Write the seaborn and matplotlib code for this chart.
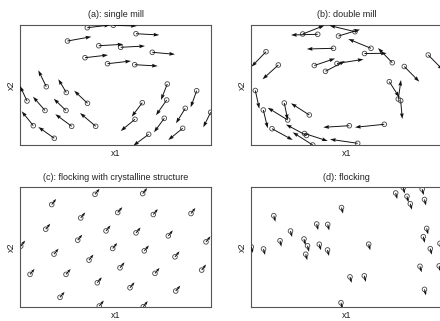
import matplotlib
matplotlib.use("Agg")
import matplotlib.pyplot as plt
import seaborn as sns
import pandas as pd

# -------------------------------
# DATA (positions x1, x2 and velocity u, v)
# -------------------------------
a_x = [6.73, 9.33, 4.75, 11.6, 7.88, 10.07, 13.23, 6.5, 8.75, 11.47,
       2.63, 4.63, 6.75, 0.7, 2.5, 4.6, 1.33, 5.17, 7.57, 3.43,
       14.73, 17.67, 12.23, 14.67, 16.53, 19.07, 11.5, 14.43, 16.27, 12.87]
a_y = [11.73, 11.97, 10.4, 11.13, 9.93, 9.77, 9.27, 8.73, 8.13, 8.03,
       5.83, 5.25, 4.17, 4.4, 3.45, 3.45, 1.93, 1.87, 1.87, 0.67,
       6.1, 5.43, 4.23, 4.5, 3.67, 3.27, 2.57, 2.67, 1.67, 1.07]
a_u = [2.27, 2.34, 2.38, 2.33, 2.45, 2.43, 2.27, 2.3, 2.35, 2.3,
       -0.8, -0.8, -1.33, -0.7, -1.2, -1.23, -1.16, -1.64, -1.57, -1.6,
       -0.63, -0.6, -1.06, -1.07, -0.93, -0.74, -1.43, -1.03, -1.44, -1.54]
a_v = [0.27, -0.07, 0.43, -0.13, 0.14, 0.13, -0.2, 0.27, 0.27, -0.13,
       1.64, 1.33, 1.26, 1.5, 1.38, 1.18, 1.44, 1.21, 1.33, 1.13,
       -1.6, -1.66, -1.4, -1.53, -1.5, -1.5, -1.17, -1.4, -1.17, -1.14]

b_x = [6.67, 5.17, 10.4, 8.75, 12.0, 11.35, 14.13, 15.33, 17.73, 13.83,
       14.73, 14.97, 13.33, 9.83, 10.67, 1.5, 2.73, 8.25, 6.33, 7.45,
       8.6, 0.43, 1.23, 3.33, 5.83, 3.67, 2.1, 5.55, 6.17, 5.35]
b_y = [11.07, 11.1, 11.33, 10.9, 9.67, 9.15, 8.23, 7.85, 9.0, 6.33,
       4.6, 4.43, 2.07, 1.93, 0.17, 9.33, 8.0, 9.67, 7.95, 7.37,
       8.15, 5.45, 3.5, 4.2, 3.0, 2.5, 1.63, 0.95, 0.0, 1.15]
b_u = [-2.67, 2.16, -2.55, 2.15, -2.27, 2.22, -1.43, 1.5, 1.47, 1.0,
       0.27, 0.16, -2.93, -2.6, -2.77, -1.45, -1.58, -2.67, 2.07, 1.95,
       2.65, 0.4, 0.44, 0.34, -1.83, -2.0, 2.07, -2.05, -2.0, 2.32]
b_v = [-0.07, 0.85, 0.62, 0.65, 0.93, 0.02, 1.47, -1.52, -1.5, -1.56,
       1.9, -1.83, -0.3, -0.16, 0.4, -1.5, -1.43, -0.07, 0.7, 1.03,
       0.42, -1.82, -1.83, -1.7, 1.17, 1.23, -1.13, 1.1, 1.27, -0.75]

c_x = [7.5, 12.27, 3.17, 6.07, 9.77, 13.33, 17.1, 2.57, 8.6, 11.6,
       14.83, 0.07, 5.77, 9.27, 12.43, 18.6, 3.4, 6.9, 15.5, 1.0,
       4.6, 10.0, 13.5, 18.17, 7.73, 11.0, 15.57, 4.0, 7.93, 12.33]
c_y = [11.3, 11.37, 10.27, 8.93, 9.47, 9.27, 9.37, 7.8, 7.63, 7.43,
       7.13, 6.1, 6.7, 5.87, 5.63, 6.53, 5.3, 4.7, 5.03, 3.27,
       3.27, 3.93, 3.37, 3.7, 2.43, 1.93, 1.6, 0.97, 0.1, 0.03]
c_u = [0.45, 0.45, 0.44, 0.45, 0.46, 0.45, 0.44, 0.45, 0.45, 0.46,
       0.45, 0.44, 0.45, 0.45, 0.46, 0.45, 0.45, 0.44, 0.45, 0.45,
       0.46, 0.45, 0.45, 0.44, 0.45, 0.45, 0.46, 0.45, 0.45, 0.44]
c_v = [0.55, 0.55, 0.56, 0.55, 0.54, 0.55, 0.56, 0.55, 0.55, 0.54,
       0.55, 0.56, 0.55, 0.55, 0.54, 0.55, 0.55, 0.56, 0.55, 0.55,
       0.54, 0.55, 0.55, 0.56, 0.55, 0.55, 0.54, 0.55, 0.55, 0.56]

d_x = [9.05, 2.28, 6.57, 7.67, 3.95, 0.03, 1.25, 2.9, 5.3, 5.65,
       6.83, 7.65, 5.47, 9.0, 11.77, 9.9, 11.33, 14.47, 15.23, 15.6,
       15.93, 17.12, 17.35, 17.57, 17.23, 17.93, 16.9, 17.35, 18.9, 18.82]
d_y = [9.97, 9.15, 8.32, 8.28, 7.62, 6.02, 5.82, 6.65, 6.82, 6.14,
       6.29, 5.72, 5.29, 0.43, 6.3, 3.02, 3.13, 11.43, 11.97, 11.1,
       10.35, 11.82, 10.78, 7.88, 7.05, 5.85, 4.08, 1.77, 6.38, 4.12]
d_u = [0.15, 0.16, 0.14, 0.15, 0.15, 0.16, 0.15, 0.14, 0.15, 0.15,
       0.16, 0.15, 0.15, 0.14, 0.15, 0.16, 0.15, 0.15, 0.14, 0.15,
       0.16, 0.15, 0.15, 0.14, 0.15, 0.15, 0.16, 0.15, 0.15, 0.14]
d_v = [-0.6, -0.6, -0.61, -0.6, -0.6, -0.59, -0.6, -0.6, -0.61, -0.6,
       -0.6, -0.6, -0.59, -0.6, -0.6, -0.6, -0.61, -0.6, -0.6, -0.6,
       -0.59, -0.6, -0.6, -0.6, -0.61, -0.6, -0.6, -0.6, -0.59, -0.6]

titles = ["(a): single mill", "(b): double mill",
          "(c): flocking with crystalline structure", "(d): flocking"]

panels = [(a_x, a_y, a_u, a_v), (b_x, b_y, b_u, b_v),
          (c_x, c_y, c_u, c_v), (d_x, d_y, d_u, d_v)]

# axes rectangles in figure fraction (right column runs past the edge)
rects = [[0.0455, 0.5483, 0.434, 0.3738], [0.5705, 0.5483, 0.434, 0.3738],
         [0.0455, 0.0436, 0.434, 0.3729], [0.5705, 0.0436, 0.434, 0.3729]]

# long arrows in the mills, short ones in the flocks
heads = [(4, 6, 5.5), (4, 6, 5.5), (3, 4, 3.6), (3, 4, 3.6)]

sns.set_style("white")
plt.rcParams['font.family'] = ['Liberation Sans', 'DejaVu Sans']

fig = plt.figure(figsize=(4.4, 3.21), dpi=100)

for (px, py, pu, pv), title, rect, hd in zip(panels, titles, rects, heads):
    ax = fig.add_axes(rect)
    df = pd.DataFrame({'x1': px, 'x2': py, 'u': pu, 'v': pv})
    sns.scatterplot(data=df, x='x1', y='x2', ax=ax, s=11, marker='o',
                    facecolor='none', edgecolor='#444444', linewidth=0.6,
                    zorder=2)
    ax.quiver(df['x1'], df['x2'], df['u'], df['v'], angles='xy',
              scale_units='xy', scale=1, color='#111111', width=0.005,
              headwidth=hd[0], headlength=hd[1], headaxislength=hd[2],
              zorder=3)
    ax.set_xlim(0, 19.1)
    ax.set_ylim(0, 12.0)
    ax.set_xticks([])
    ax.set_yticks([])
    ax.set_title(title, fontsize=6.5, pad=5.5, color='#222222')
    ax.set_xlabel('x1', fontsize=6.5, labelpad=3, color='#222222')
    ax.set_ylabel('x2', fontsize=6.5, labelpad=3, color='#222222')
    for sp in ax.spines.values():
        sp.set_color('#555555')
        sp.set_linewidth(0.8)

plt.savefig('out.png', dpi=100)
